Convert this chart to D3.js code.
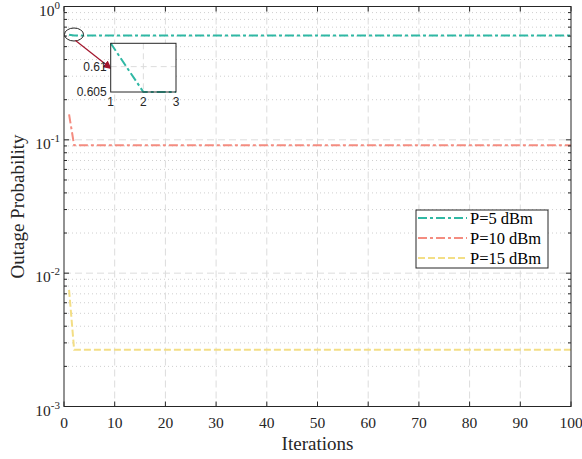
<!DOCTYPE html>
<html>
<head>
<meta charset="utf-8">
<script src="https://cdn.jsdelivr.net/npm/d3@7"></script>
<style>
  body { margin: 0; background: #fff; }
  svg { display: block; }
</style>
</head>
<body>
<div id="chart"></div>
<script>
// series vertices (iteration, outage probability)
const seriesNames = ["P=5 dBm", "P=10 dBm", "P=15 dBm"];
const p5 = [[1, 0.6146], [2, 0.605], [100, 0.605]];
const p10 = [[1, 0.155], [2, 0.091], [100, 0.091]];
const p15 = [[1, 0.0075], [2, 0.00266], [100, 0.00266]];
const xTicks = [0, 10, 20, 30, 40, 50, 60, 70, 80, 90, 100];
const yDecades = [-3, -2, -1, 0];
const insetXTicks = [1, 2, 3];
const insetYTicks = [0.605, 0.61];

const W = 582, H = 459;
const m = { left: 64, right: 11, top: 6.5, bottom: 52.5 };
const colors = ["#2fb8a4", "#f48c80", "#f3de85"];
const dashes = ["9,3,3,3", "9,3,3,3", "7,3"];
const serif = "'Liberation Serif', 'Times New Roman', serif";
const sans = "'Liberation Sans', Arial, sans-serif";

const svg = d3.select("#chart").append("svg").attr("width", W).attr("height", H);

const x = d3.scaleLinear().domain([0, 100]).range([m.left, W - m.right]);
const y = d3.scaleLog().domain([1e-3, 1]).range([H - m.bottom, m.top]);

// minor / major grid
const grid = svg.append("g");
const minorVals = [];
yDecades.slice(0, 3).forEach(d => { for (let k = 2; k <= 9; k++) minorVals.push(k * Math.pow(10, d)); });
grid.selectAll("line.minor").data(minorVals).join("line")
  .attr("x1", x(0)).attr("x2", x(100)).attr("y1", d => y(d)).attr("y2", d => y(d))
  .attr("stroke", "#cfcfcf").attr("stroke-width", 1).attr("stroke-dasharray", "1,3");
grid.selectAll("line.hmaj").data([1e-2, 1e-1]).join("line")
  .attr("x1", x(0)).attr("x2", x(100)).attr("y1", d => y(d)).attr("y2", d => y(d))
  .attr("stroke", "#dcdcdc").attr("stroke-width", 1).attr("stroke-dasharray", "7,4");
grid.selectAll("line.vmaj").data(xTicks.slice(1, -1)).join("line")
  .attr("x1", d => x(d)).attr("x2", d => x(d)).attr("y1", y(1)).attr("y2", y(1e-3))
  .attr("stroke", "#dcdcdc").attr("stroke-width", 1).attr("stroke-dasharray", "7,4");

// series
const line = d3.line().x(d => x(d[0])).y(d => y(d[1]));
[p5, p10, p15].forEach((s, i) => {
  svg.append("path").datum(s).attr("d", line).attr("fill", "none")
    .attr("stroke", colors[i]).attr("stroke-width", 2)
    .attr("stroke-dasharray", dashes[i]);
});

// axes box and ticks (inward)
const ax = svg.append("g").attr("stroke", "#262626").attr("stroke-width", 1);
ax.append("rect").attr("x", x(0)).attr("y", y(1)).attr("width", x(100) - x(0))
  .attr("height", y(1e-3) - y(1)).attr("fill", "none");
xTicks.forEach(t => {
  ax.append("line").attr("x1", x(t)).attr("x2", x(t)).attr("y1", y(1e-3)).attr("y2", y(1e-3) - 5);
  ax.append("line").attr("x1", x(t)).attr("x2", x(t)).attr("y1", y(1)).attr("y2", y(1) + 5);
});
yDecades.forEach(d => {
  const v = Math.pow(10, d);
  ax.append("line").attr("x1", x(0)).attr("x2", x(0) + 5).attr("y1", y(v)).attr("y2", y(v));
  ax.append("line").attr("x1", x(100)).attr("x2", x(100) - 5).attr("y1", y(v)).attr("y2", y(v));
});
minorVals.forEach(v => {
  ax.append("line").attr("x1", x(0)).attr("x2", x(0) + 3).attr("y1", y(v)).attr("y2", y(v));
  ax.append("line").attr("x1", x(100)).attr("x2", x(100) - 3).attr("y1", y(v)).attr("y2", y(v));
});

// tick labels
svg.append("g").selectAll("text").data(xTicks).join("text")
  .attr("x", d => x(d)).attr("y", y(1e-3) + 21)
  .attr("text-anchor", "middle").attr("font-family", serif).attr("font-size", 15.5)
  .attr("fill", "#262626").text(d => d);
yDecades.forEach(d => {
  const t = svg.append("text").attr("x", 60).attr("y", y(Math.pow(10, d)) + 9)
    .attr("text-anchor", "end").attr("font-family", serif).attr("font-size", 15.5)
    .attr("fill", "#262626");
  t.append("tspan").text("10");
  t.append("tspan").attr("dy", -7).attr("font-size", 11).text(d);
});

// axis titles
svg.append("text").attr("x", (x(0) + x(100)) / 2).attr("y", 450)
  .attr("text-anchor", "middle").attr("font-family", serif).attr("font-size", 19)
  .attr("fill", "#262626").text("Iterations");
svg.append("text")
  .attr("transform", `translate(24,${(y(1) + y(1e-3)) / 2}) rotate(-90)`)
  .attr("text-anchor", "middle").attr("font-family", serif).attr("font-size", 19)
  .attr("fill", "#262626").text("Outage Probability");

// legend
const lg = svg.append("g");
lg.append("rect").attr("x", 416).attr("y", 210).attr("width", 132).attr("height", 58)
  .attr("fill", "#fff").attr("stroke", "#262626").attr("stroke-width", 1);
seriesNames.forEach((name, i) => {
  const yy = 218 + i * 20;
  lg.append("line").attr("x1", 418).attr("x2", 467).attr("y1", yy).attr("y2", yy)
    .attr("stroke", colors[i]).attr("stroke-width", 2).attr("stroke-dasharray", dashes[i]);
  lg.append("text").attr("x", 470).attr("y", yy + 5.5).attr("font-family", serif)
    .attr("font-size", 16.5).attr("fill", "#000").text(name);
});

// marker ellipse + arrow to the inset
const defs = svg.append("defs");
defs.append("marker").attr("id", "arr").attr("viewBox", "0 0 10 10").attr("refX", 9).attr("refY", 5)
  .attr("markerWidth", 7).attr("markerHeight", 7).attr("orient", "auto")
  .append("path").attr("d", "M0,0 L10,5 L0,10 z").attr("fill", "#a3162d");
svg.append("ellipse").attr("cx", 74).attr("cy", 34.5).attr("rx", 9.5).attr("ry", 6.5)
  .attr("fill", "none").attr("stroke", "#262626").attr("stroke-width", 1);
svg.append("line").attr("x1", 75.5).attr("y1", 40.5).attr("x2", 111).attr("y2", 68.5)
  .attr("stroke", "#a3162d").attr("stroke-width", 1.2).attr("marker-end", "url(#arr)");

// inset
const ix = d3.scaleLinear().domain([1, 3]).range([110.7, 176]);
const iy = d3.scaleLinear().domain([0.605, 0.6146]).range([92, 43.3]);
const ins = svg.append("g");
ins.append("rect").attr("x", ix(1)).attr("y", iy(0.6146)).attr("width", ix(3) - ix(1))
  .attr("height", iy(0.605) - iy(0.6146)).attr("fill", "#fff");
ins.append("line").attr("x1", ix(2)).attr("x2", ix(2)).attr("y1", iy(0.6146)).attr("y2", iy(0.605))
  .attr("stroke", "#dcdcdc").attr("stroke-dasharray", "6,4");
ins.append("line").attr("x1", ix(1)).attr("x2", ix(3)).attr("y1", iy(0.61)).attr("y2", iy(0.61))
  .attr("stroke", "#dcdcdc").attr("stroke-dasharray", "6,4");
ins.append("path").datum(p5.filter(d => d[0] <= 3).concat([[3, 0.605]]))
  .attr("d", d3.line().x(d => ix(Math.min(d[0], 3))).y(d => iy(d[1])))
  .attr("fill", "none").attr("stroke", colors[0]).attr("stroke-width", 2)
  .attr("stroke-dasharray", dashes[0]);
ins.append("rect").attr("x", ix(1)).attr("y", iy(0.6146)).attr("width", ix(3) - ix(1))
  .attr("height", iy(0.605) - iy(0.6146)).attr("fill", "none").attr("stroke", "#262626");
ins.selectAll("text.ixt").data(insetXTicks).join("text")
  .attr("x", d => ix(d)).attr("y", 106).attr("text-anchor", "middle")
  .attr("font-family", sans).attr("font-size", 12).attr("fill", "#262626").text(d => d);
ins.selectAll("text.iyt").data(insetYTicks).join("text")
  .attr("x", ix(1) - 4).attr("y", d => iy(d) + 4).attr("text-anchor", "end")
  .attr("font-family", sans).attr("font-size", 12).attr("fill", "#262626").text(d => d);
</script>
</body>
</html>
